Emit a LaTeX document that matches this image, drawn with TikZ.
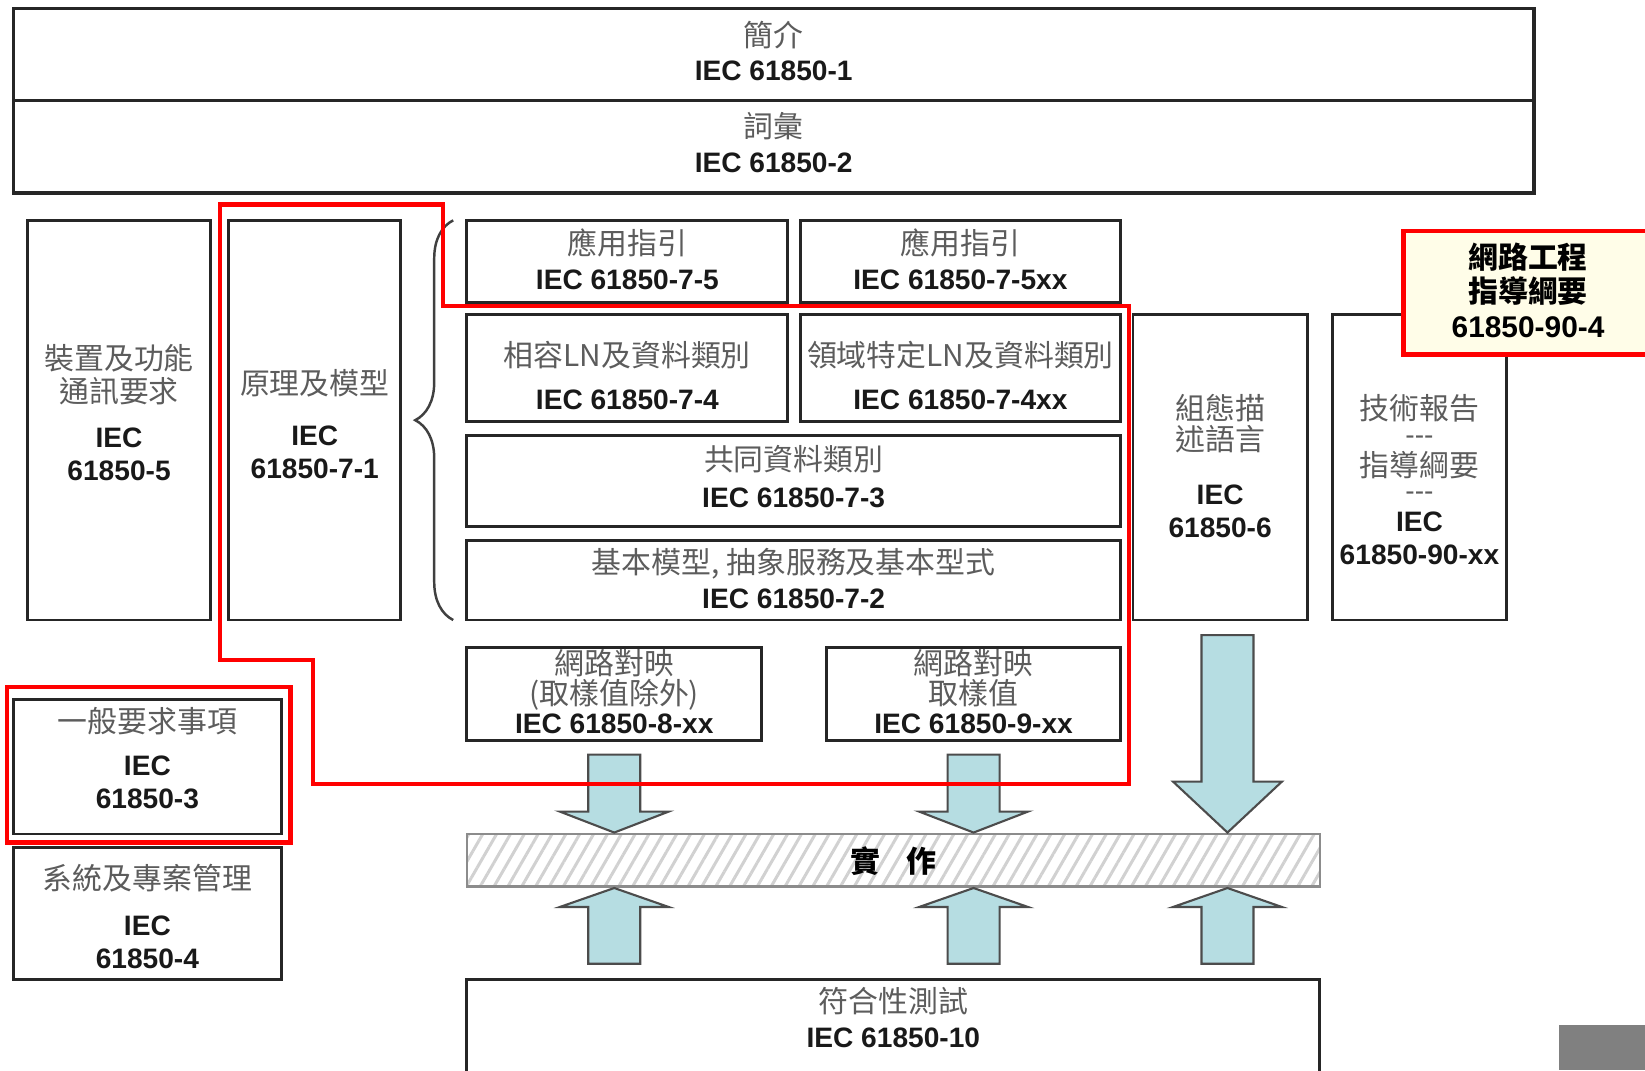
\documentclass[tikz,border=0pt]{standalone}
\usepackage{fontspec}
\setmainfont{Liberation Sans}
\newfontfamily\cjk{Noto Sans CJK TC}
\usetikzlibrary{positioning,fit,calc,decorations.pathreplacing,patterns.meta}

\definecolor{arrowblue}{RGB}{182,221,226}
\definecolor{notefill}{RGB}{255,253,232}
\definecolor{zhgray}{RGB}{92,92,92}

\newcommand{\zh}[1]{{\cjk\mdseries\fontsize{8.5}{9.3}\selectfont\color{zhgray}\smash{\raisebox{0.6pt}{#1}}\rule{0pt}{7pt}}}
\newcommand{\zhb}[1]{{\cjk\bfseries\fontsize{8.5}{9.8}\selectfont\smash{#1}\rule{0pt}{7pt}}}
\newcommand{\dashes}{{\mdseries\color{zhgray}-{}-{}-}}
\newcommand{\blockarrow}[3]{% shaft start, tip, head length (signed)
	\draw[blockarr] let \p1=(#1), \p2=(#2) in
		({\x1-2.6mm},\y1) -- ({\x1+2.6mm},\y1) -- ({\x1+2.6mm},{\y2+(#3)}) -- ({\x1+5.45mm},{\y2+(#3)})
		-- (\x1,\y2) -- ({\x1-5.45mm},{\y2+(#3)}) -- ({\x1-2.6mm},{\y2+(#3)}) -- cycle;}

\begin{document}
\begin{tikzpicture}[x=0.1049mm, y=-0.1049mm,
	box/.style={draw=black!85, line width=0.8pt, inner sep=0pt},
	topbox/.style={box, line width=1pt},
	txt/.style={inner sep=0pt, align=center, text=black!90, font=\fontsize{8}{9.3}\selectfont\bfseries},
	note/.style={draw=red, line width=1.3pt, fill=notefill, inner sep=0pt},
	implbar/.style={draw=black!45, line width=0.7pt, inner sep=0pt,
		pattern={Lines[angle=60, distance=1.2mm, line width=0.3mm]}, pattern color=black!18},
	blockarr/.style={draw=black!70, line width=0.6pt, fill=arrowblue, line join=miter},
	redline/.style={draw=red, line width=1.2pt}]
	\useasboundingbox (0,0) rectangle (1568,1020);

	% general parts
	\node[topbox, fit={(13,8) (1462,96)}] (intro) {};
	\node[txt] (intro-txt) at ($(intro.center)+(0,-2)$) {\zh{簡介}\\IEC 61850-1};
	\node[topbox, fit={(13,96) (1462,184)}] (vocab) {};
	\node[txt] (vocab-txt) at ($(vocab.center)+(0,-3)$) {\zh{詞彙}\\IEC 61850-2};

	\node[box, fit={(26,210) (201,591)}] (dev5) {};
	\node[txt] (dev5-txt) at ($(dev5.center)+(0,-6)$) {\zh{裝置及功能}\\\zh{通訊要求}\\[3pt]IEC\\61850-5};
	\node[box, fit={(218,210) (382,591)}] (model71) {};
	\node[txt] (model71-txt) at ($(model71.center)+(0,5)$) {\zh{原理及模型}\\[4.5pt]IEC\\61850-7-1};
	\draw[black!75, line width=0.7pt, decorate, decoration={brace, amplitude=3.8mm}] (432,591) -- (432,210);

	% part 7
	\node[box, fit={(445,210) (751,288)}] (guide75) {};
	\node[txt] (guide75-txt) at (guide75.center) {\zh{應用指引}\\IEC 61850-7-5};
	\node[box, fit={(763,210) (1068,288)}] (guide75xx) {};
	\node[txt] (guide75xx-txt) at (guide75xx.center) {\zh{應用指引}\\IEC 61850-7-5xx};
	\node[box, fit={(445,300) (751,402)}] (ln74) {};
	\node[txt] (ln74-txt) at ($(ln74.center)+(0,8)$) {\zh{相容LN及資料類別}\\[2.2pt]IEC 61850-7-4};
	\node[box, fit={(763,300) (1068,402)}] (ln74xx) {};
	\node[txt] (ln74xx-txt) at ($(ln74xx.center)+(0,8)$) {\zh{領域特定LN及資料類別}\\[2.2pt]IEC 61850-7-4xx};
	\node[box, fit={(445,415) (1068,502)}] (cdc73) {};
	\node[txt] (cdc73-txt) at ($(cdc73.center)+(0,-3)$) {\zh{共同資料類別}\\[0.8pt]IEC 61850-7-3};
	\node[box, fit={(445,515) (1068,591)}] (acsi72) {};
	\node[txt] (acsi72-txt) at (acsi72.center) {\zh{基本模型, 抽象服務及基本型式}\\IEC 61850-7-2};

	\node[box, fit={(1080,300) (1246,591)}] (scl6) {};
	\node[txt] (scl6-txt) at (scl6.center) {\zh{組態描}\\[-0.6pt]\zh{述語言}\\[5.5pt]IEC\\61850-6};
	\node[box, fit={(1270,300) (1436,591)}] (tr90) {};
	\node[txt] (tr90-txt) at ($(tr90.center)+(0,13)$) {\zh{技術報告}\\[-2.9pt]\dashes\\[0.4pt]\zh{指導綱要}\\[-2.9pt]\dashes\\[-0.6pt]IEC\\[0.2pt]61850-90-xx};
	\node[note, fit={(1338,220) (1575,338)}] (note) {};
	\node[txt, font=\fontsize{8.5}{9.8}\selectfont\bfseries, text=black] (note-txt) at ($(note.center)+(0,-2)$)
		{\zhb{網路工程}\\\zhb{指導綱要}\\61850-90-4};

	% mappings
	\node[box, fit={(445,617) (726,706)}] (map8) {};
	\node[txt] (map8-txt) at ($(map8.center)+(0,-1)$) {\zh{網路對映}\\[-0.8pt]\zh{(取樣值除外)}\\[-1.4pt]IEC 61850-8-xx};
	\node[box, fit={(788,617) (1068,706)}] (map9) {};
	\node[txt] (map9-txt) at ($(map9.center)+(0,-1)$) {\zh{網路對映}\\[-0.8pt]\zh{取樣值}\\[-1.4pt]IEC 61850-9-xx};

	\node[box, fit={(13,667) (268,795)}] (gen3) {};
	\node[txt] (gen3-txt) at ($(gen3.center)+(0,-7)$) {\zh{一般要求事項}\\[2.4pt]IEC\\61850-3};
	\node[box, fit={(13,808) (268,934)}] (sys4) {};
	\node[txt] (sys4-txt) at ($(sys4.center)+(0,4)$) {\zh{系統及專案管理}\\[3.2pt]IEC\\61850-4};

	% implementation and testing
	\node[implbar, fit={(445,795) (1258,845)}] (impl) {};
	\node[txt, text=black] (impl-txt) at (impl.center) {\zhb{實\hspace{0.9em}作}};
	\node[box, fit={(445,934) (1258,1045)}] (test10) {};
	\node[txt, below=3.2pt of test10.north] (test10-txt) {\zh{符合性測試}\\IEC 61850-10};

	\coordinate (d1) at ($(map8.south)+(0,12)$);
	\coordinate (d2) at ($(map9.south)+(0,12)$);
	\coordinate (d3) at ($(scl6.south)+(7,13)$);
	\blockarrow{d1}{d1 |- impl.north}{2.1mm}
	\blockarrow{d2}{d2 |- impl.north}{2.1mm}
	\blockarrow{d3}{d3 |- impl.north}{5.1mm}
	\coordinate (u1) at ($(d1 |- test10.north)+(0,-14)$);
	\coordinate (u2) at ($(d2 |- test10.north)+(0,-14)$);
	\coordinate (u3) at ($(d3 |- test10.north)+(0,-14)$);
	\blockarrow{u1}{u1 |- impl.south}{-1.9mm}
	\blockarrow{u2}{u2 |- impl.south}{-1.9mm}
	\blockarrow{u3}{u3 |- impl.south}{-1.9mm}

	% highlights
	\draw[redline] (210,195) -- (422,195) -- (422,292) -- (1076,292) -- (1076,747)
		-- (298,747) -- (298,629) -- (210,629) -- cycle;
	\draw[redline] (7,655) rectangle (277,803);
	\fill[gray] (1486,977) rectangle (1568,1020);
\end{tikzpicture}
\end{document}
